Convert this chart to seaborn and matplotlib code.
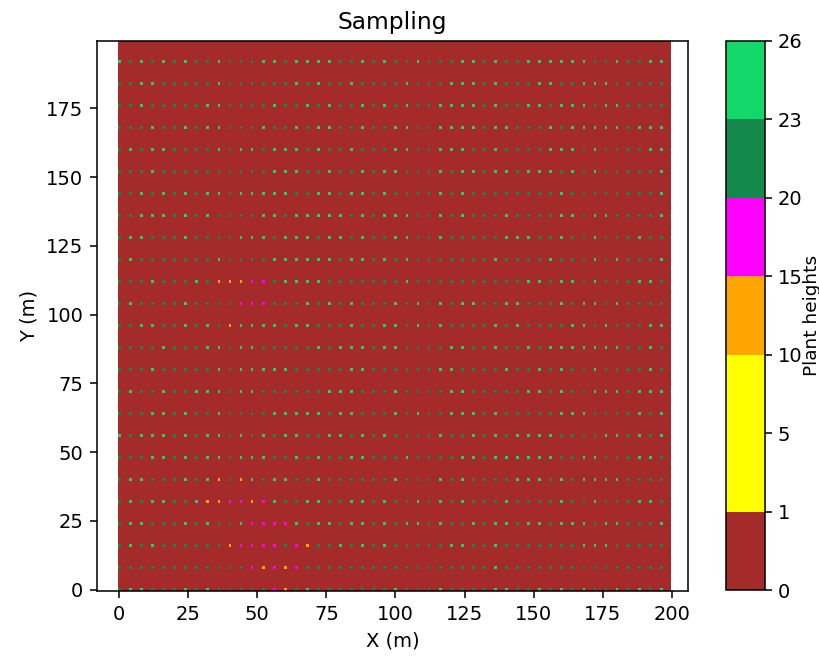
import numpy as np
import matplotlib
matplotlib.use("Agg")
import matplotlib.pyplot as plt
from matplotlib.colors import ListedColormap, BoundaryNorm
import seaborn as sns

# ---- data -------------------------------------------------------------
# plant rows (Y, m) from top to bottom and plant columns (X, m)
row_y = [192, 184, 176, 168, 160, 152, 144, 136, 128, 120, 112, 104,
         96, 88, 80, 72, 64, 56, 48, 40, 32, 24, 16, 8, 0]
col_x = list(range(0, 200, 4))

# height class per plant (left half + right half)
# g: 20-23, G: 23-26, m: 15-20, o: 10-15, y: 1-10
rows_left = [
    "GgGgGgGggGgggGGgGGGGggGgG",
    "ggGGgggggGggggggGgGggGggg",
    "ggGgggggGGggggGggGgGggGgG",
    "gggGggGgGGgggGggGgGGggGgg",
    "gGgGGggggGgGGgGGGgGggGggg",
    "gggGggggggggggGGGggGggGgG",
    "ggGgGgGgGGgGGGGGggGGgGGgG",
    "ggGGGgGgGggggGGgGGGGGgGgG",
    "gGGgggGggggGGGgGGGgGGgGgg",
    "gGgggggggGggggGGGGGGgGGgG",
    "gggGgggGgooommgGGGGgggggg",
    "gGggggGggggmmmgggGgGgGggg",
    "ggGGggGgGgoGGGGgGGgggGggG",
    "ggggGgggGGgGGgggggGgGGGgG",
    "gggGgggggGgGGGGGgggggGGgg",
    "gGggGggGGGgGGggggggGGGggg",
    "gggGGgGggGggggGGGGGgGGggg",
    "GgGGGgGgGGgGgGgGGggGGgGgG",
    "gggGGgGgGGgGGGggGgGggGGgg",
    "gGGgggGgGogoGgGGggGgggggg",
    "gGgGGggGoommomGggGGggGGgG",
    "gGGgggGgGggGmmmmGgGGgGGgG",
    "gGgGggggggommmmgmoggGgGgG",
    "ggggggggggggmomomgggggggg",
    "gGGgggGgGgggggmogGggggggg",
]
rows_right = [
    "ggGgggGGgGggGGGGGGggGggGG",
    "gGgggGGGgGgggGGggGGGggggg",
    "gGggGGGGgGggGGgGGGgGGgggg",
    "GGggGGGGgGGgggGgGGGGGgGGG",
    "GGggGGGggGggggGGGgGggggGG",
    "GgggGgGGgGGgGGGgGgGgggggG",
    "ggggGgGggggggggGggggggggG",
    "GGggGgGgggGggggGGgGGggggG",
    "GGggGgggggGGGggGggGgggGgg",
    "gGgggggggGggggGgggGgGgggG",
    "gGggggggggggGGgGGgGgggGGg",
    "GgGgGgGGggGGgggGgGGgGgggg",
    "GgGgGggggGgGggggGGgGgggGG",
    "GggggGGggGggGgGGGGGGGggGg",
    "ggggGGggggGggGgGggGggggGg",
    "GggggGGgggggGGgGggGGGgGGG",
    "GgGggGGGgGgggggGGGggggGgG",
    "ggggGggGgGgGGGGggggGGgGgG",
    "gGggggGGgGGGGGGggGGgggGGg",
    "GgggGgGggggGGGgGgGGGGgggg",
    "ggGgGgGgggGggggGggGgggGGg",
    "gGGgGggGgGGgGGgGGGgGGgggG",
    "gggggGGggGgggggggGGGggggg",
    "gggggggggGggggggggggggggg",
    "GgggGggggGGggGgGgGggGgGgG",
]
class_height = {"g": 21.5, "G": 24.5, "m": 17.5, "o": 12.5, "y": 3.0}

bounds = [0, 1, 5, 10, 15, 20, 23, 26]
colors = ["#A52A2A", "#FFFF00", "#FFFF00", "#FFA500", "#FF00FF",
          "#138A4B", "#12D86A"]

# ---- build the field ---------------------------------------------------
field = np.zeros((200, 200))
for y, left, right in zip(row_y, rows_left, rows_right):
    codes = left + right
    for x, c in zip(col_x, codes):
        field[y, x] = class_height[c]

sns.set_style("ticks")
plt.rcParams.update(matplotlib.rcParamsDefault)

cmap = ListedColormap(sns.color_palette(colors))
norm = BoundaryNorm(bounds, cmap.N)

W, H, DPI = 819, 658, 140
fig = plt.figure(figsize=(W / DPI, H / DPI), dpi=DPI)
ax = fig.add_axes([97 / W, 1 - 591 / H, 591 / W, 550 / H])
im = ax.imshow(field, origin="lower", cmap=cmap, norm=norm, aspect="auto",
               interpolation="nearest")
ax.set_xlim(-7.96, 205.8)
ax.set_ylim(-0.5, 199.5)
ax.set_xticks([0, 25, 50, 75, 100, 125, 150, 175, 200])
ax.set_yticks([0, 25, 50, 75, 100, 125, 150, 175])
ax.set_title("Sampling")
ax.set_xlabel("X (m)")
ax.set_ylabel("Y (m)")

cax = fig.add_axes([726 / W, 1 - 590 / H, 39 / W, 549 / H])
cb = fig.colorbar(im, cax=cax, ticks=bounds)
cb.ax.tick_params(pad=3)
cb.set_label("Plant heights", labelpad=0, fontsize=9.5)

fig.savefig("out.png", dpi=DPI)
